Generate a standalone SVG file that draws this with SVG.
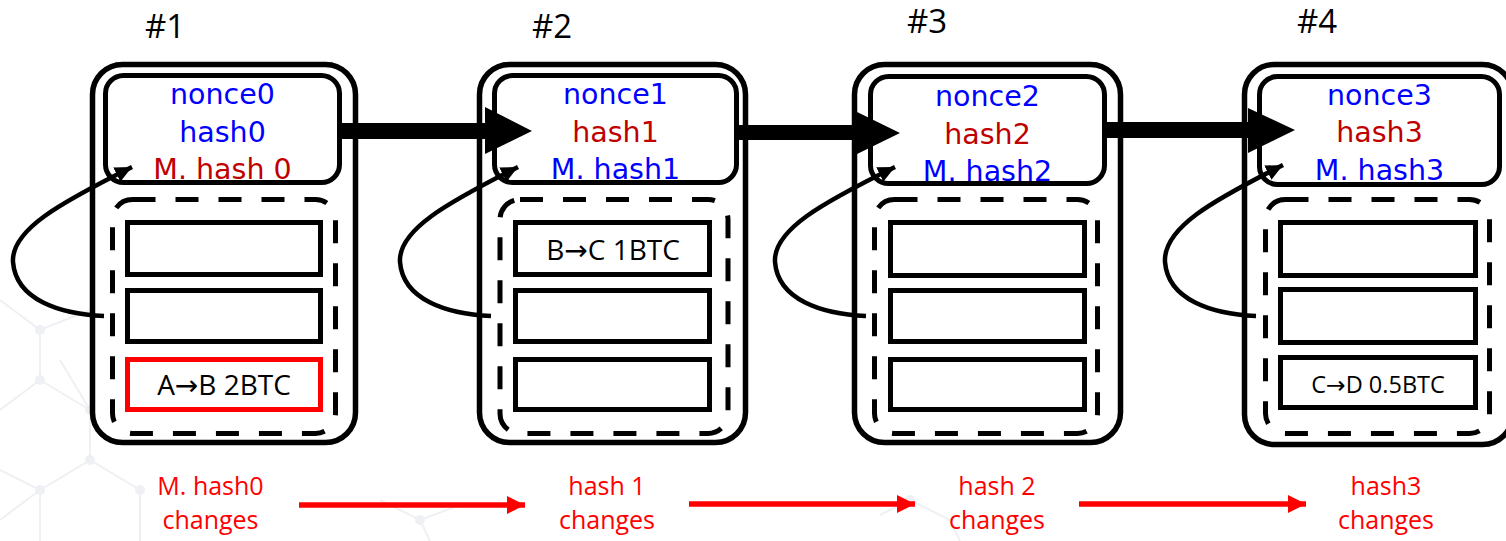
<svg xmlns="http://www.w3.org/2000/svg" width="1506" height="541" viewBox="0 0 1506 541">
<style>
.outer{fill:none;stroke:#000;stroke-width:5.5}
.hdr{fill:#fff;stroke:#000;stroke-width:5}
.dash{fill:none;stroke:#000;stroke-width:5;stroke-dasharray:23 20}
.tx{fill:#fff;stroke:#000;stroke-width:5}
.txr{fill:#fff;stroke:#ff0000;stroke-width:5}
.ht{font-family:"DejaVu Sans",sans-serif;font-size:28.5px;text-anchor:middle}
.blue{fill:#0000ff}
.dred{fill:#c00000}
.num{font-family:"Open Sans",sans-serif;font-size:33px;fill:#000}
.txt{font-family:"Open Sans","DejaVu Sans",sans-serif;font-size:28px;fill:#000;text-anchor:middle}
.lbl{font-family:"Open Sans",sans-serif;font-size:25px;fill:#ff0000;text-anchor:middle}
.fb{fill:none;stroke:#000;stroke-width:4.5;marker-end:url(#ah)}
.big{fill:#000}
.ra{stroke:#ff0000;stroke-width:5.5;fill:none;marker-end:url(#rh)}
.bg{stroke:#eef0f3;stroke-width:2;fill:none}
.bgd{fill:#eef0f3}
</style>
<defs>
<marker id="ah" markerUnits="userSpaceOnUse" markerWidth="20" markerHeight="18" refX="17" refY="8" orient="auto"><path d="M0,0 L17,8 L0,16 Z" fill="#000"/></marker>
<marker id="rh" markerUnits="userSpaceOnUse" markerWidth="20" markerHeight="20" refX="18" refY="9" orient="auto"><path d="M0,0 L18,9 L0,18 Z" fill="#ff0000"/></marker>
</defs>
<g id="background">
<path class="bg" d="M0,300 L40,330 L40,380 L0,410 M40,330 L90,310 M40,380 L90,410 L90,460 L40,490 L0,470 M90,460 L140,490 L140,541 M40,490 L40,541 M90,410 L60,360 M0,520 L40,490"/>
<circle class="bgd" cx="40" cy="330" r="5"/><circle class="bgd" cx="40" cy="380" r="5"/><circle class="bgd" cx="90" cy="410" r="5"/><circle class="bgd" cx="90" cy="460" r="5"/><circle class="bgd" cx="40" cy="490" r="5"/><circle class="bgd" cx="140" cy="490" r="5"/>
<path class="bg" d="M380,500 L420,520 L460,505 M420,520 L430,541 M880,515 L910,500 L950,520 L960,541"/>
<circle class="bgd" cx="420" cy="520" r="5"/><circle class="bgd" cx="910" cy="500" r="5"/>
</g>
<g id="block1">
<text class="num" x="145" y="38">#1</text>
<rect class="outer" x="92.5" y="64.5" width="263" height="378" rx="30"/>
<rect class="hdr" x="105.5" y="75.5" width="234" height="107" rx="18"/>
<text class="ht blue" x="222.5" y="104">nonce0</text>
<text class="ht blue" x="222.5" y="141.5">hash0</text>
<text class="ht dred" x="222.5" y="179">M. hash 0</text>
<rect class="dash" x="112.5" y="199.5" width="223" height="234" rx="20"/>
<rect class="tx" x="127.5" y="222.5" width="193" height="52"/>
<rect class="tx" x="127.5" y="290.5" width="193" height="51"/>
<rect class="txr" x="127.5" y="359.5" width="193" height="50"/>
<text class="txt" x="224" y="395">A→B 2BTC</text>
</g>
<g id="block2">
<text class="num" x="532" y="38">#2</text>
<rect class="outer" x="479.5" y="64.5" width="266" height="378" rx="30"/>
<rect class="hdr" x="494.5" y="75.5" width="242" height="107" rx="18"/>
<text class="ht blue" x="615.5" y="104">nonce1</text>
<text class="ht dred" x="615.5" y="141.5">hash1</text>
<text class="ht blue" x="615.5" y="179">M. hash1</text>
<rect class="dash" x="500" y="199.5" width="228" height="234" rx="20"/>
<rect class="tx" x="515.5" y="222.5" width="194" height="52"/>
<rect class="tx" x="515.5" y="290.5" width="194" height="51"/>
<rect class="tx" x="515.5" y="359.5" width="194" height="50"/>
<text class="txt" x="613" y="260">B→C 1BTC</text>
</g>
<g id="block3">
<text class="num" x="907" y="33">#3</text>
<rect class="outer" x="854.5" y="64.5" width="266" height="378" rx="30"/>
<rect class="hdr" x="870.5" y="76.5" width="234" height="107" rx="18"/>
<text class="ht blue" x="987.5" y="106">nonce2</text>
<text class="ht dred" x="987.5" y="143.5">hash2</text>
<text class="ht blue" x="987.5" y="181">M. hash2</text>
<rect class="dash" x="874.5" y="199.5" width="223" height="234" rx="20"/>
<rect class="tx" x="890.5" y="222.5" width="194" height="53"/>
<rect class="tx" x="890.5" y="290.5" width="194" height="51"/>
<rect class="tx" x="890.5" y="359.5" width="194" height="50"/>
</g>
<g id="block4">
<text class="num" x="1297" y="33">#4</text>
<rect class="outer" x="1244.5" y="64.5" width="268" height="380" rx="30"/>
<rect class="hdr" x="1259.5" y="76.5" width="240" height="108" rx="18"/>
<text class="ht blue" x="1379.5" y="105">nonce3</text>
<text class="ht dred" x="1379.5" y="142">hash3</text>
<text class="ht blue" x="1379.5" y="180">M. hash3</text>
<rect class="dash" x="1265.5" y="199.5" width="224" height="234" rx="20"/>
<rect class="tx" x="1280.5" y="222.5" width="195" height="53"/>
<rect class="tx" x="1280.5" y="289.5" width="195" height="53"/>
<rect class="tx" x="1280.5" y="357.5" width="195" height="50"/>
<text class="txt" x="1378" y="393" style="font-size:23.5px">C→D 0.5BTC</text>
</g>
<g id="connectors">
<polygon class="big" points="342,123 485,123 485,107 532,131 485,154 485,139 342,139"/>
<polygon class="big" points="739,125 853,125 853,110 900,133 853,156 853,140 739,140"/>
<polygon class="big" points="1107,122 1248,122 1248,108 1295,130 1248,153 1248,138 1107,138"/>
<path class="fb" d="M104,316 C60,314 16,300 13,262 C11,230 60,203 132,167"/>
<path class="fb" d="M491,316 C447,314 403,300 400,262 C398,230 447,203 518,167"/>
<path class="fb" d="M866,316 C822,314 778,300 775,262 C773,230 822,203 895,167"/>
<path class="fb" d="M1256,316 C1212,314 1168,300 1165,262 C1163,228 1212,201 1283,165"/>
<line class="ra" x1="299" y1="505" x2="525" y2="505"/>
<line class="ra" x1="689" y1="504" x2="915" y2="504"/>
<line class="ra" x1="1079" y1="504" x2="1306" y2="504"/>
</g>
<g id="labels">
<text class="lbl" x="210.5" y="495">M. hash0</text>
<text class="lbl" x="210.5" y="529">changes</text>
<text class="lbl" x="607" y="495">hash 1</text>
<text class="lbl" x="607" y="529">changes</text>
<text class="lbl" x="997" y="495">hash 2</text>
<text class="lbl" x="997" y="529">changes</text>
<text class="lbl" x="1386" y="495">hash3</text>
<text class="lbl" x="1386" y="529">changes</text>
</g>
</svg>
